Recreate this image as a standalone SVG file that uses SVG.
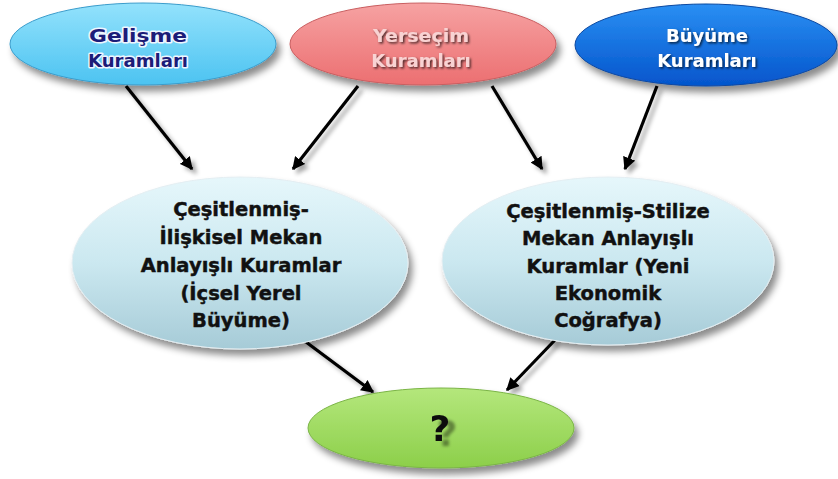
<svg xmlns="http://www.w3.org/2000/svg" width="838" height="479" viewBox="0 0 838 479">
<defs>
<linearGradient id="gBlue" x1="0" y1="0" x2="0" y2="1"><stop offset="0" stop-color="#93e2fc"/><stop offset="1" stop-color="#4cc3f1"/></linearGradient>
<linearGradient id="gPink" x1="0" y1="0" x2="0" y2="1"><stop offset="0" stop-color="#f6a2a2"/><stop offset="1" stop-color="#ec6f71"/></linearGradient>
<linearGradient id="gDeep" x1="0" y1="0" x2="0" y2="1"><stop offset="0" stop-color="#2a8ff3"/><stop offset="1" stop-color="#0455cc"/></linearGradient>
<linearGradient id="gPale" x1="0" y1="0" x2="0" y2="1"><stop offset="0" stop-color="#e6f7fb"/><stop offset="0.5" stop-color="#cbe8f0"/><stop offset="1" stop-color="#a6cbd7"/></linearGradient>
<linearGradient id="gGreen" x1="0" y1="0" x2="0" y2="1"><stop offset="0" stop-color="#b4e77c"/><stop offset="1" stop-color="#8ccf4a"/></linearGradient>
<filter id="shadow" x="-20%" y="-20%" width="140%" height="150%"><feDropShadow dx="4" dy="6" stdDeviation="3.5" flood-color="#000" flood-opacity="0.45"/></filter>
<filter id="lineShadow" x="-30%" y="-30%" width="160%" height="160%"><feDropShadow dx="4" dy="4" stdDeviation="2" flood-color="#000" flood-opacity="0.35"/></filter>
<filter id="txtShadow" x="-20%" y="-20%" width="140%" height="150%"><feDropShadow dx="1.5" dy="1.5" stdDeviation="0.8" flood-color="#000" flood-opacity="0.7"/></filter>
<filter id="qShadow" x="-50%" y="-50%" width="200%" height="200%"><feDropShadow dx="7" dy="5" stdDeviation="1.5" flood-color="#000" flood-opacity="0.4"/></filter>
<marker id="arrow" viewBox="0 0 10 10" refX="9" refY="5" markerWidth="4" markerHeight="4" orient="auto" markerUnits="strokeWidth"><path d="M0,0 L10,5 L0,10 z" fill="#000"/></marker>
<style>
.top { font-family: "DejaVu Sans", Verdana, sans-serif; font-weight: bold; font-size: 18px; text-anchor: middle; }
.mid { font-family: "DejaVu Sans", Verdana, sans-serif; font-weight: bold; font-size: 19.5px; text-anchor: middle; fill: #111; stroke: #111; stroke-width: 0.45; }
.conn { stroke: #000; stroke-width: 3.2; fill: none; marker-end: url(#arrow); }
</style>
</defs>
<rect width="838" height="479" fill="#fff"/>

<g id="connectors" filter="url(#lineShadow)">
<line class="conn" x1="126" y1="86" x2="192" y2="169"/>
<line class="conn" x1="358" y1="86" x2="293" y2="169"/>
<line class="conn" x1="492" y1="86" x2="542" y2="169"/>
<line class="conn" x1="657" y1="86" x2="625" y2="169"/>
<line class="conn" x1="306" y1="342" x2="373" y2="392"/>
<line class="conn" x1="555" y1="340" x2="507" y2="390"/>
</g>

<g id="gelisme">
<ellipse cx="143" cy="44" rx="133" ry="41" fill="url(#gBlue)" stroke="#3b9ccb" stroke-width="1" filter="url(#shadow)"/>
<text class="top" x="138" y="42" fill="#1c1c78" stroke="#eef6ff" stroke-width="3" paint-order="stroke" stroke-linejoin="round" textLength="98" lengthAdjust="spacingAndGlyphs">Gelişme</text>
<text class="top" x="138" y="67" fill="#1c1c78" stroke="#eef6ff" stroke-width="3" paint-order="stroke" stroke-linejoin="round" textLength="100" lengthAdjust="spacingAndGlyphs">Kuramları</text>
</g>

<g id="yersecim">
<ellipse cx="423" cy="44" rx="133" ry="41" fill="url(#gPink)" stroke="#c95e60" stroke-width="1" filter="url(#shadow)"/>
<g filter="url(#txtShadow)">
<text class="top" x="421" y="42" fill="#f8d3d3" textLength="96" lengthAdjust="spacingAndGlyphs">Yerseçim</text>
<text class="top" x="421" y="67" fill="#f8d3d3">Kuramları</text>
</g>
</g>

<g id="buyume">
<ellipse cx="706" cy="45" rx="131" ry="41" fill="url(#gDeep)" stroke="#0a48a0" stroke-width="1" filter="url(#shadow)"/>
<g filter="url(#txtShadow)">
<text class="top" x="707" y="42" fill="#fff">Büyüme</text>
<text class="top" x="707" y="67" fill="#fff">Kuramları</text>
</g>
</g>

<g id="iliskisel">
<ellipse cx="240" cy="263" rx="168" ry="86" fill="url(#gPale)" stroke="#e4eef2" stroke-width="1" filter="url(#shadow)"/>
<text class="mid" x="241" y="216">Çeşitlenmiş-</text>
<text class="mid" x="241" y="244">İlişkisel Mekan</text>
<text class="mid" x="241" y="272">Anlayışlı Kuramlar</text>
<text class="mid" x="241" y="300">(İçsel Yerel</text>
<text class="mid" x="241" y="327">Büyüme)</text>
</g>

<g id="stilize">
<ellipse cx="608" cy="261" rx="166" ry="84" fill="url(#gPale)" stroke="#e4eef2" stroke-width="1" filter="url(#shadow)"/>
<text class="mid" x="608" y="218">Çeşitlenmiş-Stilize</text>
<text class="mid" x="608" y="245">Mekan Anlayışlı</text>
<text class="mid" x="608" y="273">Kuramlar (Yeni</text>
<text class="mid" x="608" y="300">Ekonomik</text>
<text class="mid" x="608" y="327">Coğrafya)</text>
</g>

<g id="sonuc">
<ellipse cx="441" cy="428" rx="133" ry="40" fill="url(#gGreen)" stroke="#7ab445" stroke-width="1" filter="url(#shadow)"/>
<text x="440" y="441" font-family="DejaVu Sans, Verdana, sans-serif" font-weight="bold" font-size="36" text-anchor="middle" fill="#111" filter="url(#qShadow)">?</text>
</g>
</svg>
